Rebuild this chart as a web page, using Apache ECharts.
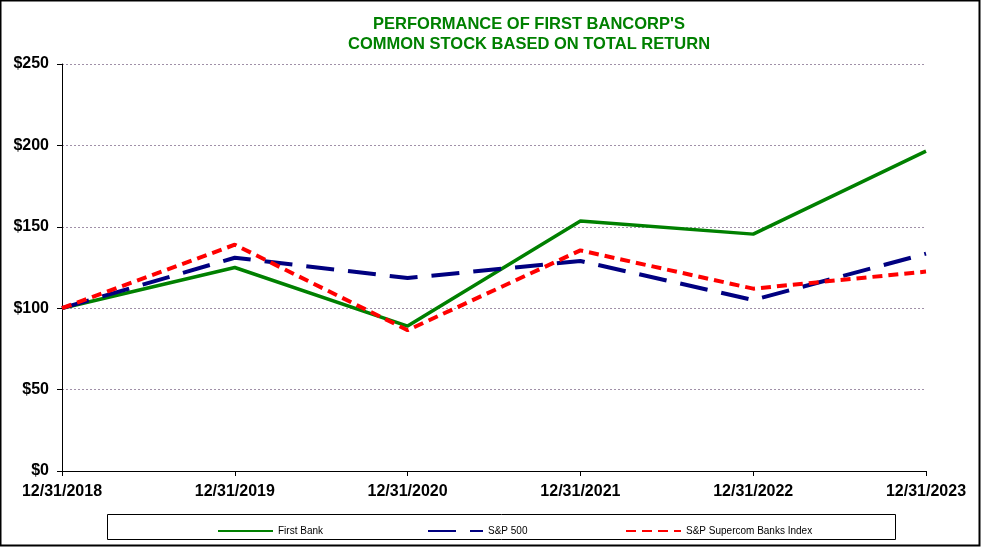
<!DOCTYPE html>
<html><head><meta charset="utf-8">
<script src="https://cdn.jsdelivr.net/npm/echarts@6/dist/echarts.min.js"></script>
<style>html,body{margin:0;padding:0;background:#fff}#c{width:981px;height:547px}</style>
</head><body><div id="c"></div>
<script>
var categories = ['12/31/2018','12/31/2019','12/31/2020','12/31/2021','12/31/2022','12/31/2023'];
var firstBank = [100, 125, 89, 153.5, 145.5, 196.5];
var sp500 = [100, 131, 118.5, 129, 105, 133.5];
var banksIndex = [100, 139, 86.5, 135.5, 112, 122.5];
var yTicks = [0, 50, 100, 150, 200, 250];

var chart = echarts.init(document.getElementById('c'));
var font = 'Arial, "Liberation Sans", sans-serif';
var legendText = {fontFamily: font, fontSize: 10, color: '#000'};
var legendItem = {opacity: 0};
chart.setOption({
  animation: false,
  backgroundColor: '#fff',
  title: {
    text: "PERFORMANCE OF FIRST BANCORP'S\nCOMMON STOCK BASED ON TOTAL RETURN",
    left: 524, top: 9, textAlign: 'center',
    textStyle: {color: '#008000', fontFamily: font, fontWeight: 'bold', fontSize: 16.5, lineHeight: 20}
  },
  graphic: [
    {type: 'rect', shape: {x: 0.5, y: 0.5, width: 979, height: 545}, style: {fill: 'none', stroke: '#000', lineWidth: 2}, silent: true},
    {type: 'rect', shape: {x: 107.5, y: 514.5, width: 788, height: 25}, style: {fill: 'none', stroke: '#000', lineWidth: 1}, silent: true}
  ],
  legend: [
    {data: ['First Bank'], left: 212, top: 521, itemWidth: 55, itemHeight: 12, itemStyle: legendItem, textStyle: legendText},
    {data: ['S&P 500'], left: 422, top: 521, itemWidth: 55, itemHeight: 12, itemStyle: legendItem, textStyle: legendText},
    {data: ['S&P Supercom Banks Index'], left: 620, top: 521, itemWidth: 55, itemHeight: 12, itemStyle: legendItem, textStyle: legendText}
  ],
  grid: {left: 62, right: 55, top: 64, bottom: 76},
  xAxis: {
    type: 'category', data: categories, boundaryGap: false,
    axisLine: {lineStyle: {color: '#000', width: 1}},
    axisTick: {show: true, length: 5, lineStyle: {color: '#000'}},
    axisLabel: {color: '#000', fontFamily: font, fontWeight: 'bold', fontSize: 16, margin: 13}
  },
  yAxis: {
    type: 'value', min: yTicks[0], max: yTicks[yTicks.length - 1], interval: 50,
    axisLine: {show: true, lineStyle: {color: '#000', width: 1}},
    axisTick: {show: true, length: 5, lineStyle: {color: '#000'}},
    axisLabel: {color: '#000', fontFamily: font, fontWeight: 'bold', fontSize: 16, margin: 13,
      formatter: function (v) { return '$' + v; }},
    splitLine: {show: true, lineStyle: {color: '#a090a8', type: [2, 2], width: 1}}
  },
  series: [
    {name: 'First Bank', type: 'line', data: firstBank, symbol: 'none', color: '#008000',
     lineStyle: {color: '#008000', width: 3.5}},
    {name: 'S&P 500', type: 'line', data: sp500, symbol: 'none', color: '#000080',
     lineStyle: {color: '#000080', width: 4, type: [28, 14]}},
    {name: 'S&P Supercom Banks Index', type: 'line', data: banksIndex, symbol: 'none', color: '#ff0000',
     lineStyle: {color: '#ff0000', width: 4, type: [10, 6]}}
  ]
});
</script></body></html>
